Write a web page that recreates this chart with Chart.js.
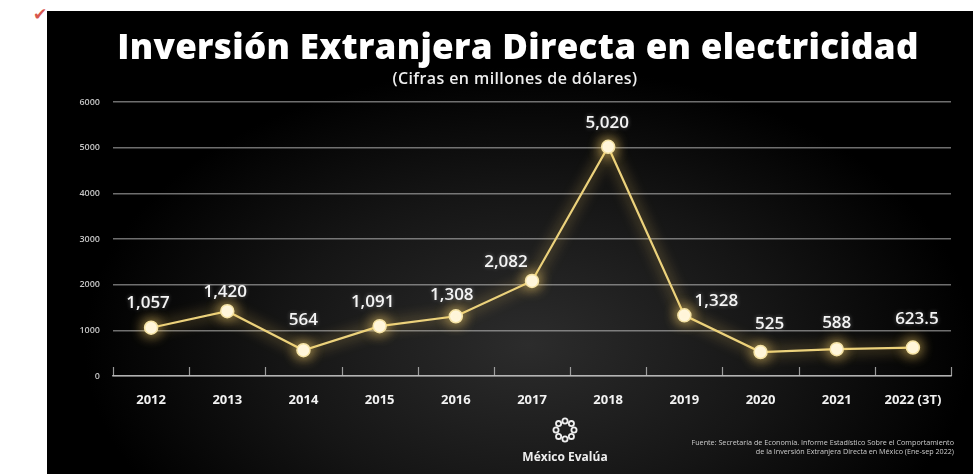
<!DOCTYPE html>
<html>
<head>
<meta charset="utf-8">
<script src="https://cdn.jsdelivr.net/npm/chart.js@4.4.0/dist/chart.umd.min.js"></script>
<style>
  html, body { margin: 0; padding: 0; background: #fff; width: 973px; height: 474px; overflow: hidden; }
  #check { position: absolute; left: 33px; top: 4px; color: #d8574e; font: 17px "DejaVu Sans"; }
  #panel {
    position: absolute; left: 47px; top: 11px; width: 926px; height: 463px;
    background: radial-gradient(ellipse 60% 75% at 52% 72%, #2c2c2c 0%, #151515 45%, #000 80%);
  }
  #panel canvas { position: absolute; left: 0; top: 0; }
  .txt { position: absolute; color: #fff; text-align: center; white-space: nowrap; }
  #title { left: 0; width: 942px; top: 11px; font: 800 35px "Open Sans"; letter-spacing: 0.3px; }
  #subtitle { left: 0; width: 936px; top: 56px; font: 600 16px "Open Sans"; color: #eee; letter-spacing: 0.4px; }
  #logo { left: 418px; width: 200px; top: 405px; }
  #logo div { font: 700 12px "Open Sans"; color: #eee; margin-top: 0px; }
  #source { right: 19px; top: 427px; font: 7.2px "Open Sans"; color: #ccc; text-align: right; line-height: 9px; }
</style>
</head>
<body>
<div id="check">✔</div>
<div id="panel">
  <canvas id="chartIED" width="926" height="463"></canvas>
  <div class="txt" id="title">Inversión Extranjera Directa en electricidad</div>
  <div class="txt" id="subtitle">(Cifras en millones de dólares)</div>
  <div class="txt" id="logo">
    <svg width="28" height="28" viewBox="-14 -14 28 28">
      <g fill="none" stroke="#eee" stroke-width="1.8">
        <circle cx="0" cy="-9" r="2.6"/><circle cx="6.4" cy="-6.4" r="2.6"/>
        <circle cx="9" cy="0" r="2.6"/><circle cx="6.4" cy="6.4" r="2.6"/>
        <circle cx="0" cy="9" r="2.6"/><circle cx="-6.4" cy="6.4" r="2.6"/>
        <circle cx="-9" cy="0" r="2.6"/><circle cx="-6.4" cy="-6.4" r="2.6"/>
      </g>
    </svg>
    <div>México Evalúa</div>
  </div>
  <div class="txt" id="source">Fuente: Secretaría de Economía. Informe Estadístico Sobre el Comportamiento<br>de la Inversión Extranjera Directa en México (Ene-sep 2022)</div>
</div>

<script>
// datos
const years = ["2012", "2013", "2014", "2015", "2016", "2017", "2018", "2019", "2020", "2021", "2022 (3T)"];
const ied = [1057, 1420, 564, 1091, 1308, 2082, 5020, 1328, 525, 588, 623.5];
const valueLabels = ["1,057", "1,420", "564", "1,091", "1,308", "2,082", "5,020", "1,328", "525", "588", "623.5"];
const yTicks = [0, 1000, 2000, 3000, 4000, 5000, 6000];

// desplazamiento de las etiquetas (px)
const labelDx = [-3, -2, 0, -7, -4, -26, -1, 32, 9, 0, 4];
const labelDy = [-25, -19, -30, -24, -21, -19, -24, -14, -28, -26, -28];

const gold = "#ecd27c";

// brillo de la línea y puntos
const glow = {
  id: "glow",
  beforeDatasetDraw(chart) {
    const c = chart.ctx;
    c.save();
    c.shadowColor = "rgba(255, 214, 110, 0.95)";
    c.shadowBlur = 14;
  },
  afterDatasetDraw(chart) {
    chart.ctx.restore();
  }
};

// etiquetas de valores + marcas del eje x hacia arriba
const extras = {
  id: "extras",
  afterDatasetsDraw(chart) {
    const c = chart.ctx;
    const meta = chart.getDatasetMeta(0);
    c.save();
    c.font = "600 17px 'Open Sans'";
    c.fillStyle = "#f4f4f4";
    c.textAlign = "center";
    c.textBaseline = "middle";
    c.shadowColor = "rgba(255,255,255,0.35)";
    c.shadowBlur = 4;
    meta.data.forEach((pt, i) => {
      c.fillText(valueLabels[i], pt.x + labelDx[i], pt.y + labelDy[i]);
    });
    c.restore();

    const x = chart.scales.x;
    const n = years.length;
    c.save();
    c.strokeStyle = "rgba(190,190,190,0.8)";
    c.lineWidth = 1.2;
    for (let i = 0; i <= n; i++) {
      const px = Math.round(x.left + i * x.width / n) + 0.5;
      c.beginPath();
      c.moveTo(px, x.top - 9);
      c.lineTo(px, x.top);
      c.stroke();
    }
    c.restore();
  }
};

new Chart(document.getElementById("chartIED"), {
  type: "line",
  data: {
    labels: years,
    datasets: [{
      data: ied,
      borderColor: gold,
      borderWidth: 2.2,
      pointRadius: 6.5,
      pointBackgroundColor: "#fffbea",
      pointBorderColor: "#f6e4a6",
      pointBorderWidth: 1.5,
      tension: 0
    }]
  },
  options: {
    responsive: false,
    animation: false,
    layout: { padding: { top: 91, right: 22, bottom: 68, left: 0 } },
    plugins: { legend: { display: false }, tooltip: { enabled: false } },
    scales: {
      x: {
        offset: true,
        grid: { display: false },
        border: { display: true, color: "rgba(200,200,200,0.75)", width: 1.5 },
        ticks: { color: "#f2f2f2", font: { family: "Open Sans", size: 13, weight: "bold" }, padding: 8, maxRotation: 0 },
        afterFit(s) { s.height = 30; }
      },
      y: {
        min: 0,
        max: 6000,
        afterBuildTicks(s) { s.ticks = yTicks.map(v => ({ value: v })); },
        grid: { color: "rgba(200,200,200,0.55)", lineWidth: 1.5, drawTicks: false },
        border: { display: false },
        ticks: {
          color: "#c4c4c4",
          font: { family: "Open Sans", size: 9, weight: "600" },
          padding: 13,
          callback: v => String(v)
        },
        afterFit(s) { s.width = 66; }
      }
    }
  },
  plugins: [glow, extras]
});
</script>
</body>
</html>
